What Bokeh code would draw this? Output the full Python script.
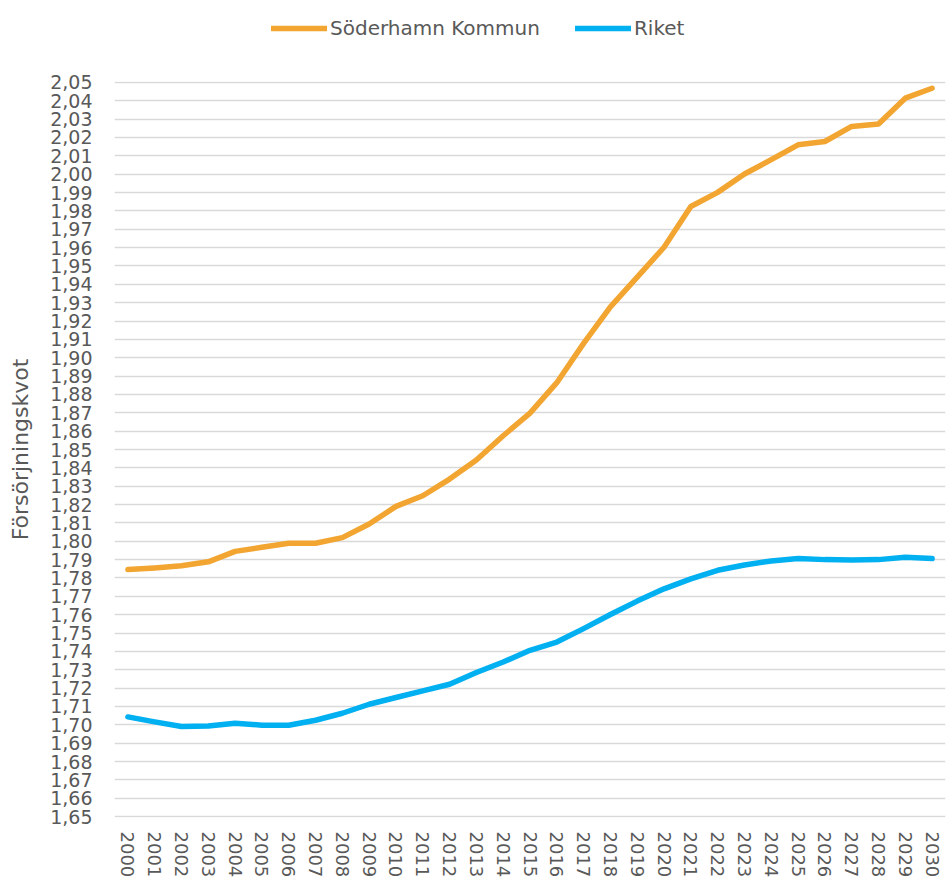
from bokeh.plotting import figure
from bokeh.layouts import column
from bokeh.models import (FactorRange, Range1d, FixedTicker, CustomJSTickFormatter,
                          Legend, LegendItem)
from bokeh.embed import file_html
from bokeh.resources import INLINE

# ---- data ----
years = [str(y) for y in range(2000, 2031)]
soderhamn = [1.7846, 1.7855, 1.7867, 1.7888, 1.7945, 1.7967, 1.7989, 1.7989, 1.8020, 1.8094,
             1.8190, 1.8248, 1.8339, 1.8443, 1.8575, 1.8698, 1.8864, 1.9078, 1.9277, 1.9439,
             1.9602, 1.9824, 1.9901, 2.0001, 2.0079, 2.0160, 2.0178, 2.0260, 2.0273, 2.0414,
             2.0468]
riket = [1.7043, 1.7016, 1.6991, 1.6994, 1.7009, 1.6998, 1.6998, 1.7025, 1.7063, 1.7112,
         1.7149, 1.7185, 1.7221, 1.7285, 1.7342, 1.7406, 1.7451, 1.7524, 1.7601, 1.7674,
         1.7741, 1.7795, 1.7842, 1.7871, 1.7893, 1.7906, 1.7900, 1.7898, 1.7900, 1.7913,
         1.7906]
y_ticks = [round(1.65 + 0.01 * i, 2) for i in range(41)]
series_names = ["Söderhamn Kommun", "Riket"]
y_label = "Försörjningskvot"

ORANGE = "#F2A531"
BLUE = "#00B0F0"
TEXT = "#595959"
GRID = "#D9D9D9"
FONT = "DejaVu Sans"

x_range = FactorRange(*years, range_padding=0)

# ---- legend strip (top); its lines lie outside its own y range ----
top = figure(width=946, height=56, x_range=x_range, y_range=Range1d(0, 1),
             output_backend="svg", toolbar_location=None,
             min_border_left=114, min_border_right=1, min_border_top=0, min_border_bottom=0)
top.axis.visible = False
top.grid.grid_line_color = None
top.outline_line_color = None
l1 = top.line(years, soderhamn, line_color=ORANGE, line_width=5.5, line_cap="round")
l2 = top.line(years, riket, line_color=BLUE, line_width=5.5, line_cap="round")
legend = Legend(items=[LegendItem(label=series_names[0], renderers=[l1]),
                       LegendItem(label=series_names[1], renderers=[l2])],
                location=(157, 16), orientation="horizontal",
                glyph_width=56, glyph_height=24, label_standoff=3, spacing=35,
                padding=0, margin=0, border_line_color=None,
                background_fill_alpha=0,
                label_text_font=FONT, label_text_font_size="20px",
                label_text_color=TEXT)
top.add_layout(legend, "center")

# ---- main chart ----
p = figure(width=946, height=824,
           x_range=x_range,
           y_range=Range1d(1.6495, 2.0505),
           output_backend="svg", toolbar_location=None,
           min_border_left=114, min_border_right=1,
           min_border_top=25, min_border_bottom=62)
p.outline_line_color = None
p.background_fill_color = "white"

p.line(years, soderhamn, line_color=ORANGE, line_width=5.5,
       line_join="round", line_cap="round")
p.line(years, riket, line_color=BLUE, line_width=5.5,
       line_join="round", line_cap="round")

p.xgrid.grid_line_color = None
p.ygrid.grid_line_color = GRID
p.ygrid.grid_line_width = 1.5

p.yaxis.ticker = FixedTicker(ticks=y_ticks)
p.yaxis.formatter = CustomJSTickFormatter(code="return tick.toFixed(2).replace('.', ',');")
p.yaxis.axis_line_color = None
p.yaxis.major_tick_line_color = None
p.yaxis.minor_tick_line_color = None
p.yaxis.major_tick_out = 0
p.yaxis.major_tick_in = 0
p.yaxis.major_label_standoff = 22
p.yaxis.major_label_text_font = FONT
p.yaxis.major_label_text_font_size = "19px"
p.yaxis.major_label_text_color = TEXT
p.yaxis.axis_label = y_label
p.yaxis.axis_label_text_font = FONT
p.yaxis.axis_label_text_font_size = "22px"
p.yaxis.axis_label_text_font_style = "normal"
p.yaxis.axis_label_text_color = TEXT
p.yaxis.axis_label_standoff = 14

p.xaxis.axis_line_color = None
p.xaxis.major_tick_line_color = None
p.xaxis.major_tick_out = 0
p.xaxis.major_tick_in = 0
p.xaxis.major_label_orientation = "vertical"
p.xaxis.major_label_standoff = 14
p.xaxis.major_label_text_font = FONT
p.xaxis.major_label_text_font_size = "18px"
p.xaxis.major_label_text_color = TEXT

layout = column(top, p, spacing=0)
open("out.html", "w").write(file_html(layout, INLINE))
